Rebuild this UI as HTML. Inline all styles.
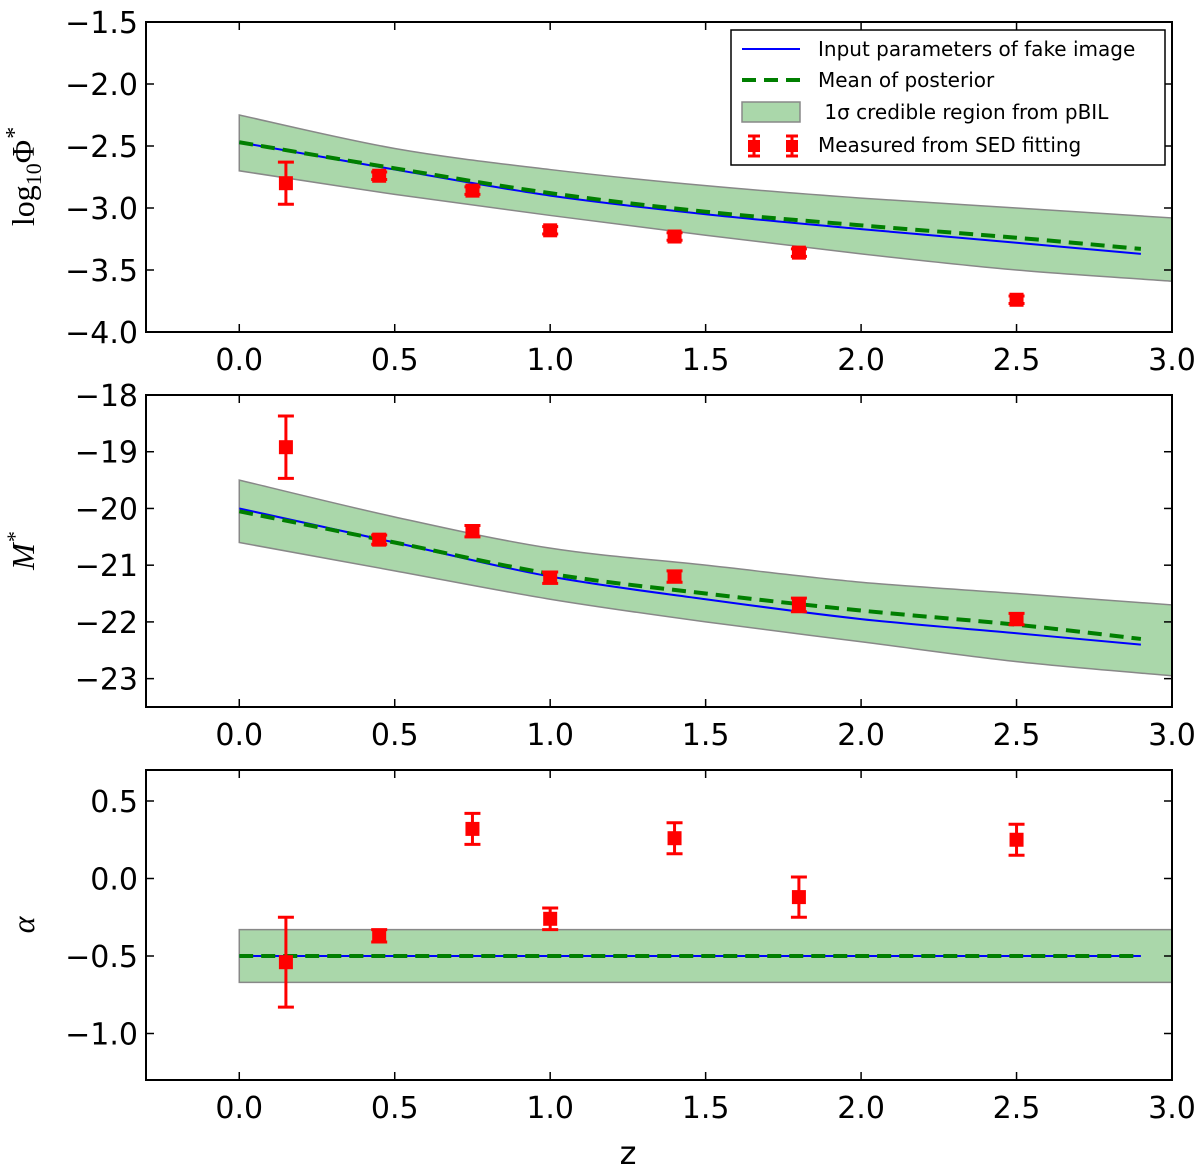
<!DOCTYPE html>
<html><head><meta charset="utf-8"><style>
html,body{margin:0;padding:0;background:#fff;}
svg{display:block;font-family:"DejaVu Sans","Liberation Sans",sans-serif;}
</style></head><body>
<svg id="chart" width="1200" height="1171" xmlns="http://www.w3.org/2000/svg"></svg>
<script>
const curveZ = [0, 0.5, 1.0, 1.5, 2.0, 2.5, 2.9];
const bandZ = [0, 0.5, 1.0, 1.5, 2.0, 2.5, 3.0];
const pointZ = [0.15, 0.45, 0.75, 1.0, 1.4, 1.8, 2.5];
const xTicks = [0.0, 0.5, 1.0, 1.5, 2.0, 2.5, 3.0];
const xTickLabels = ["0.0","0.5","1.0","1.5","2.0","2.5","3.0"];

const phiInput = [-2.47, -2.69, -2.90, -3.05, -3.17, -3.28, -3.37];
const phiMean = [-2.47, -2.68, -2.88, -3.03, -3.14, -3.24, -3.33];
const phiUpper = [-2.25, -2.52, -2.69, -2.82, -2.92, -3.00, -3.08];
const phiLower = [-2.70, -2.89, -3.06, -3.22, -3.37, -3.50, -3.59];
const phiPts = [-2.80, -2.74, -2.86, -3.18, -3.23, -3.36, -3.74];
const phiErr = [0.17, 0.03, 0.03, 0.03, 0.03, 0.03, 0.03];
const phiTicks = [-1.5, -2.0, -2.5, -3.0, -3.5, -4.0];
const phiTickLabels = ["\u22121.5","\u22122.0","\u22122.5","\u22123.0","\u22123.5","\u22124.0"];

const mInput = [-20.0, -20.6, -21.2, -21.6, -21.95, -22.2, -22.4];
const mMean = [-20.05, -20.6, -21.15, -21.5, -21.8, -22.05, -22.3];
const mUpper = [-19.5, -20.15, -20.7, -21.0, -21.3, -21.5, -21.7];
const mLower = [-20.6, -21.1, -21.6, -22.0, -22.35, -22.7, -22.95];
const mPts = [-18.92, -20.55, -20.4, -21.22, -21.2, -21.7, -21.95];
const mErr = [0.55, 0.08, 0.1, 0.1, 0.1, 0.12, 0.1];
const mTicks = [-18, -19, -20, -21, -22, -23];
const mTickLabels = ["\u221218","\u221219","\u221220","\u221221","\u221222","\u221223"];

const aInput = [-0.5, -0.5, -0.5, -0.5, -0.5, -0.5, -0.5];
const aMean = [-0.5, -0.5, -0.5, -0.5, -0.5, -0.5, -0.5];
const aUpper = [-0.33, -0.33, -0.33, -0.33, -0.33, -0.33, -0.33];
const aLower = [-0.67, -0.67, -0.67, -0.67, -0.67, -0.67, -0.67];
const aPts = [-0.54, -0.37, 0.32, -0.26, 0.26, -0.12, 0.25];
const aErr = [0.29, 0.04, 0.1, 0.07, 0.1, 0.13, 0.1];
const aTicks = [0.5, 0.0, -0.5, -1.0];
const aTickLabels = ["0.5","0.0","\u22120.5","\u22121.0"];

const NS = "http://www.w3.org/2000/svg";
const svg = document.getElementById("chart");
function el(tag, attrs, parent){const e=document.createElementNS(NS,tag);for(const k in attrs)e.setAttribute(k,attrs[k]);(parent||svg).appendChild(e);return e;}

const X0=146, X1=1172, XMIN=-0.3, XMAX=3.0;
const xs = v => X0 + (v-XMIN)/(XMAX-XMIN)*(X1-X0);

// smooth path through points (Catmull-Rom -> cubic Bezier)
function smooth(pts, move){
  let d = (move?"M":"L")+pts[0][0]+","+pts[0][1];
  for(let i=0;i<pts.length-1;i++){
    const p0=pts[Math.max(i-1,0)], p1=pts[i], p2=pts[i+1], p3=pts[Math.min(i+2,pts.length-1)];
    const c1=[p1[0]+(p2[0]-p0[0])/6, p1[1]+(p2[1]-p0[1])/6];
    const c2=[p2[0]-(p3[0]-p1[0])/6, p2[1]-(p3[1]-p1[1])/6];
    d+=` C${c1[0]},${c1[1]} ${c2[0]},${c2[1]} ${p2[0]},${p2[1]}`;
  }
  return d;
}

function panel(name, top, bottom, ymax, ymin, band, inp, mean, pts, err, ticks, tickLabels, ylabel){
  const g = el("g", {});
  
  
  const ys = v => top + (ymax-v)/(ymax-ymin)*(bottom-top);
  const up = bandZ.map((z,i)=>[xs(z),ys(band[0][i])]);
  const lo = bandZ.map((z,i)=>[xs(z),ys(band[1][i])]).reverse();
  const d = smooth(up,true)+" "+smooth(lo,false)+" Z";
  const b = el("path",{d:d,fill:"#aad7aa",stroke:"#888","stroke-width":1.5},g);
  
  
  const l1 = el("path",{d:smooth(curveZ.map((z,i)=>[xs(z),ys(inp[i])]),true),fill:"none",stroke:"#0000ff","stroke-width":2},g);
  
  
  const l2 = el("path",{d:smooth(curveZ.map((z,i)=>[xs(z),ys(mean[i])]),true),fill:"none",stroke:"#007f00","stroke-width":4,"stroke-dasharray":"14,8"},g);
  
  
  pointZ.forEach((z,i)=>{
    const x=xs(z), y=ys(pts[i]), y1=ys(pts[i]+err[i]), y2=ys(pts[i]-err[i]);
    const pg = el("g",{fill:"#ff0000",stroke:"#ff0000"},g);
    
    
    el("line",{x1:x,y1:y1,x2:x,y2:y2,"stroke-width":3},pg);
    el("line",{x1:x-8,y1:y1,x2:x+8,y2:y1,"stroke-width":3},pg);
    el("line",{x1:x-8,y1:y2,x2:x+8,y2:y2,"stroke-width":3},pg);
    el("rect",{x:x-7,y:y-7,width:14,height:14,stroke:"none"},pg);
  });
  const f = el("rect",{x:X0,y:top,width:X1-X0,height:bottom-top,fill:"none",stroke:"#000","stroke-width":2},g);
  
  
  ticks.forEach((t,i)=>{
    const y=ys(t);
    el("line",{x1:X0,y1:y,x2:X0+8,y2:y,stroke:"#000","stroke-width":1.5},g);
    el("line",{x1:X1,y1:y,x2:X1-8,y2:y,stroke:"#000","stroke-width":1.5},g);
    const tx = el("text",{x:X0-8,y:y+11,"text-anchor":"end","font-size":30},g);
    tx.textContent = tickLabels[i];
    
    
  });
  xTicks.forEach((t,i)=>{
    const x=xs(t);
    el("line",{x1:x,y1:bottom,x2:x,y2:bottom-8,stroke:"#000","stroke-width":1.5},g);
    el("line",{x1:x,y1:top,x2:x,y2:top+8,stroke:"#000","stroke-width":1.5},g);
    const tx = el("text",{x:x,y:bottom+38,"text-anchor":"middle","font-size":30},g);
    tx.textContent = xTickLabels[i];
    
    
  });
  const yl = el("text",{x:0,y:0,"text-anchor":"middle","font-size":32,"font-family":"Liberation Serif, serif","font-style":"italic",transform:`translate(34,${(top+bottom)/2}) rotate(-90)`},g);
  yl.innerHTML = ylabel;
  
  
}
panel("phi-panel",22,332,-1.5,-4.0,[phiUpper,phiLower],phiInput,phiMean,phiPts,phiErr,phiTicks,phiTickLabels,'<tspan font-style="normal">log</tspan><tspan font-style="normal" font-size="22" dy="7">10</tspan><tspan font-style="normal" dy="-7">Φ</tspan><tspan dy="-12" font-size="24">*</tspan>');
panel("mstar-panel",395,707,-18,-23.5,[mUpper,mLower],mInput,mMean,mPts,mErr,mTicks,mTickLabels,'M<tspan dy="-12" font-size="22">*</tspan>');
panel("alpha-panel",770,1080,0.7,-1.3,[aUpper,aLower],aInput,aMean,aPts,aErr,aTicks,aTickLabels,'α');

const xl = el("text",{x:628,y:1164,"text-anchor":"middle","font-size":32});
xl.textContent="z";



const lg = el("g",{"font-size":20});


el("rect",{x:731,y:30,width:434,height:135,fill:"#fff",stroke:"#000","stroke-width":1.5},lg);
el("line",{x1:742,y1:49,x2:800,y2:49,stroke:"#0000ff","stroke-width":2},lg);
el("line",{x1:742,y1:80,x2:800,y2:80,stroke:"#007f00","stroke-width":4,"stroke-dasharray":"14,8"},lg);
el("rect",{x:742,y:102,width:58,height:20,fill:"#aad7aa",stroke:"#888","stroke-width":1.5},lg);
const pg=el("g",{fill:"#f00",stroke:"#f00"},lg);
[754,792].forEach(x=>{el("line",{x1:x,y1:136,x2:x,y2:156,"stroke-width":3},pg);el("line",{x1:x-6,y1:136,x2:x+6,y2:136,"stroke-width":3},pg);el("line",{x1:x-6,y1:156,x2:x+6,y2:156,"stroke-width":3},pg);el("rect",{x:x-6,y:140,width:12,height:12,stroke:"none"},pg);});
const labels=["Input parameters of fake image","Mean of posterior","\u00a01σ credible region from pBIL","Measured from SED fitting"];
[56,87,119,152].forEach((y,i)=>{const t=el("text",{x:818,y:y},lg);t.textContent=labels[i];});
</script>
</body></html>
